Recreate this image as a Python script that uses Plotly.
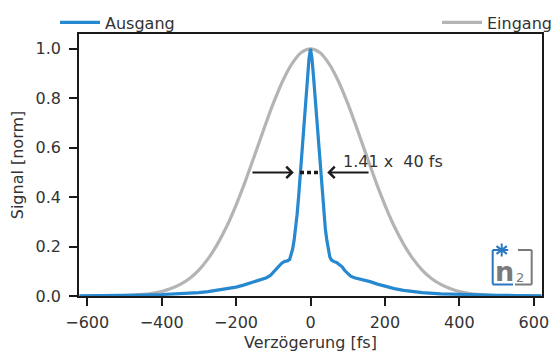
import plotly.graph_objects as go

# ---------------- data ----------------
delay_out = [-620, -600, -550, -500, -450, -400, -350, -300, -275, -250, -225, -200, -180, -160,
             -145, -130, -118, -108, -100, -92, -85, -78, -70, -62, -56, -52, -48, -44, -40, -36,
             -32, -28, -24, -20, -16, -12, -8, -4, 0, 4, 8, 12, 16, 20, 24, 28, 32, 36, 40, 44,
             48, 52, 56, 62, 70, 78, 85, 92, 100, 108, 118, 130, 145, 160, 180, 200, 225, 250,
             275, 300, 350, 400, 450, 500, 550, 600, 620]
signal_out = [0.001, 0.001, 0.002, 0.003, 0.004, 0.006, 0.009, 0.014, 0.018, 0.023, 0.029, 0.036,
              0.044, 0.053, 0.062, 0.069, 0.074, 0.083, 0.097, 0.110, 0.120, 0.132, 0.140, 0.142,
              0.148, 0.165, 0.190, 0.225, 0.270, 0.330, 0.400, 0.480, 0.560, 0.650, 0.730, 0.810,
              0.890, 0.960, 1.000, 0.960, 0.890, 0.810, 0.730, 0.650, 0.560, 0.480, 0.400, 0.330,
              0.270, 0.225, 0.185, 0.158, 0.146, 0.140, 0.136, 0.128, 0.118, 0.103, 0.090, 0.080,
              0.074, 0.070, 0.065, 0.058, 0.048, 0.039, 0.030, 0.023, 0.018, 0.014, 0.009, 0.006,
              0.004, 0.003, 0.002, 0.001, 0.001]

delay_in = [-625, -600, -550, -500, -475, -450, -425, -400, -375, -350, -325, -300, -275, -250,
            -225, -200, -175, -150, -125, -100, -75, -50, -25, 0, 25, 50, 75, 100, 125, 150, 175,
            200, 225, 250, 275, 300, 325, 350, 375, 400, 425, 450, 475, 500, 550, 600, 625]
signal_in = [0.0000, 0.0001, 0.0005, 0.0019, 0.0036, 0.0063, 0.011, 0.018, 0.030, 0.047, 0.071,
             0.105, 0.151, 0.210, 0.282, 0.368, 0.465, 0.570, 0.677, 0.779, 0.869, 0.939, 0.985,
             1.000, 0.985, 0.939, 0.869, 0.779, 0.677, 0.570, 0.465, 0.368, 0.282, 0.210, 0.151,
             0.105, 0.071, 0.047, 0.030, 0.018, 0.011, 0.0063, 0.0036, 0.0019, 0.0005, 0.0001,
             0.0000]

x_ticks = [-600, -400, -200, 0, 200, 400, 600]
y_ticks = [0.0, 0.2, 0.4, 0.6, 0.8, 1.0]
y_tick_text = ["0.0", "0.2", "0.4", "0.6", "0.8", "1.0"]

pulse_fs = 40          # output pulse duration
deconv = 1.41          # autocorrelation factor
arrow_level = 0.5
arrow_tail = 160
arrow_head = 45
label_text = "1.41 x\u00a0 40 fs"

# ---------------- style ----------------
BLUE = "#2688cf"
GRAY = "#b4b4b4"
TXT = "#333333"
FONT = "DejaVu Sans"
FS = 16

W, H = 553, 356
ML, MR, MT, MB = 79, 11, 34, 60
PW, PH = W - ML - MR, H - MT - MB


def px(x):
    return (x - ML) / PW


def py(y):
    return (H - MB - y) / PH


fig = go.Figure()
fig.add_trace(go.Scatter(x=delay_in, y=signal_in, mode="lines", name="Eingang",
                         line=dict(color=GRAY, width=3.2, shape="spline", smoothing=0.8),
                         legend="legend2"))
fig.add_trace(go.Scatter(x=delay_out, y=signal_out, mode="lines", name="Ausgang",
                         line=dict(color=BLUE, width=3.2), legend="legend"))

half = deconv * pulse_fs / 2
fig.add_shape(type="line", x0=-half, x1=half, y0=arrow_level, y1=arrow_level,
              xref="x", yref="y", line=dict(color="#1a1a1a", width=3.5, dash="4px,3px"))
for s in (-1, 1):
    fig.add_annotation(x=s * arrow_head, y=arrow_level, ax=s * arrow_tail, ay=arrow_level,
                       xref="x", yref="y", axref="x", ayref="y", showarrow=True,
                       arrowhead=4, arrowsize=1.1, arrowwidth=2, arrowcolor="#1a1a1a", text="")
fig.add_annotation(x=83, y=0.545, xref="x", yref="y", text=label_text, showarrow=False,
                   xanchor="left", yanchor="middle", font=dict(size=FS, color=TXT, family=FONT))

# ---------------- n2 logo (decoration) ----------------
LB = "#2a77c0"
LG = "#7a7a7a"
logo_lines = [
    (492.7, 250, 492.7, 284.5, LB), (492.7, 250, 497, 250, LB), (492.7, 284.5, 513, 284.5, LB),
    (531.7, 250, 531.7, 284.5, LG), (518, 250, 531.7, 250, LG), (515, 284.5, 531.7, 284.5, LG),
]
for x0, y0, x1, y1, c in logo_lines:
    fig.add_shape(type="line", xref="paper", yref="paper", x0=px(x0), y0=py(y0), x1=px(x1),
                  y1=py(y1), line=dict(color=c, width=2))
cx, cy, r = 501.7, 250, 6.5
for dx, dy in [(0, 1), (0.8, 0.6), (0.8, -0.6), (1, 0)]:
    fig.add_shape(type="line", xref="paper", yref="paper", x0=px(cx - r * dx), y0=py(cy - r * dy),
                  x1=px(cx + r * dx), y1=py(cy + r * dy), line=dict(color=LB, width=2))
fig.add_annotation(x=px(504.5), y=py(271.5), xref="paper", yref="paper", text="<b>n</b>",
                   showarrow=False, xanchor="center", yanchor="middle",
                   font=dict(size=27, color=LG, family=FONT))
fig.add_annotation(x=px(519.5), y=py(277), xref="paper", yref="paper", text="2",
                   showarrow=False, xanchor="center", yanchor="middle",
                   font=dict(size=13, color=LG, family=FONT))

axis_common = dict(showline=True, linecolor="#1a1a1a", linewidth=1.5, mirror=True,
                   ticks="outside", ticklen=8, tickwidth=1.5, tickcolor="#1a1a1a",
                   showgrid=False, zeroline=False,
                   tickfont=dict(size=FS, color=TXT, family=FONT))
fig.update_xaxes(range=[-622, 622], tickvals=x_ticks, ticklabelstandoff=3,
                 title=dict(text="Verzögerung [fs]", font=dict(size=FS, color=TXT, family=FONT),
                            standoff=6),
                 **axis_common)
fig.update_yaxes(range=[0, 1.06], tickvals=y_ticks, ticktext=y_tick_text, ticklabelstandoff=5,
                 title=dict(text="Signal [norm]", font=dict(size=FS, color=TXT, family=FONT),
                            standoff=8),
                 **axis_common)

fig.update_layout(
    width=W, height=H,
    margin=dict(l=ML, r=MR, t=MT, b=MB, autoexpand=False),
    paper_bgcolor="white", plot_bgcolor="white",
    font=dict(family=FONT, size=FS, color=TXT),
    legend=dict(x=55 / W, y=1 - 22.5 / H, xref="container", yref="container",
                xanchor="left", yanchor="middle", orientation="h", itemwidth=40,
                bgcolor="rgba(0,0,0,0)", font=dict(size=FS, color=TXT, family=FONT)),
    legend2=dict(x=437 / W, y=1 - 22.5 / H, xref="container", yref="container",
                 xanchor="left", yanchor="middle", orientation="h", itemwidth=40,
                 bgcolor="rgba(0,0,0,0)", font=dict(size=FS, color=TXT, family=FONT)),
    showlegend=True,
)

fig.write_html("out.html", config={"displayModeBar": False},
               post_script="document.body.style.margin='0px';")
